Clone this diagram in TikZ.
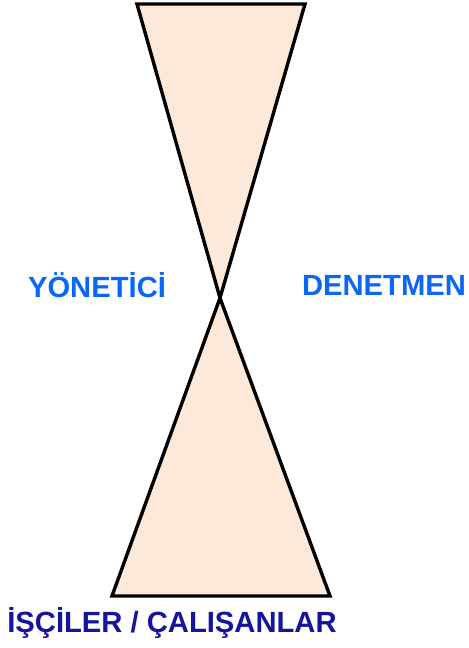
\documentclass[tikz,border=0pt]{standalone}
\usepackage{fontspec}
\setmainfont{Liberation Sans}
\definecolor{peach}{HTML}{FDE9D9}
\definecolor{lblue}{HTML}{0A66F5}
\definecolor{dblue}{HTML}{14149E}
\begin{document}
\begin{tikzpicture}[x=0.5pt,y=-0.5pt,
  tri/.style={fill=peach,draw=black,line width=1.7pt,line join=miter},
  lab/.style={font=\fontsize{14.6}{16}\selectfont\bfseries,inner sep=0pt}]
\useasboundingbox (0,0) rectangle (468,648);
\coordinate (tl) at (137,4);
\coordinate (tr) at (305,4);
\coordinate (m) at (220,298);
\coordinate (bl) at (112,596);
\coordinate (br) at (330,596);
\draw[tri] (tl) -- (tr) -- (m) -- cycle;
\draw[tri] (m) -- (br) -- (bl) -- cycle;
\node[lab,text=lblue] (yon) at (97,285) {YÖNETİCİ};
\node[lab,text=lblue] (den) at (384,285) {DENETMEN};
\node[lab,text=dblue] (isc) at (172,623) {İŞÇİLER / ÇALIŞANLAR};
\end{tikzpicture}
\end{document}
